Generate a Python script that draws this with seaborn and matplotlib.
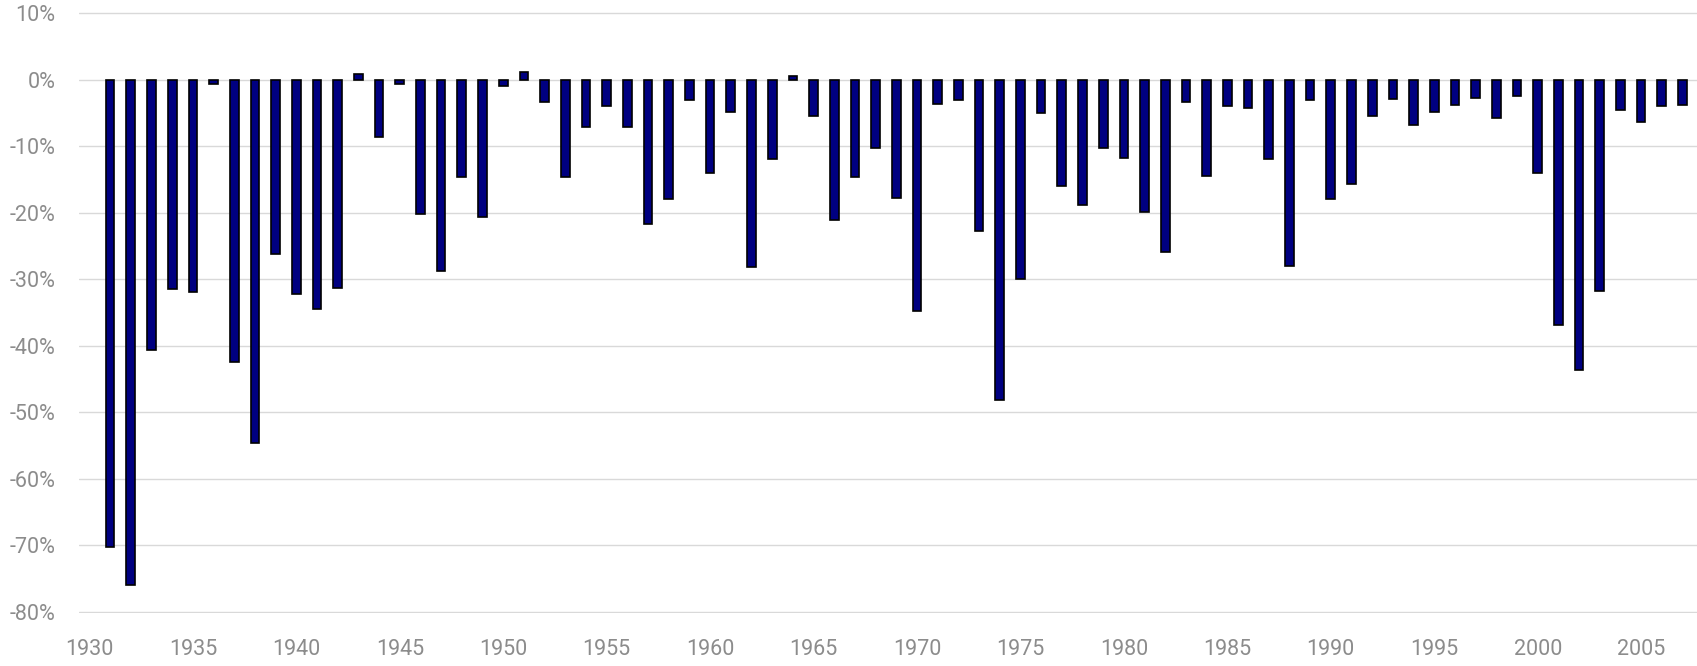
import matplotlib
matplotlib.use("Agg")
import matplotlib.pyplot as plt
import seaborn as sns
import pandas as pd

# Yearly declines (%) from 1931 to 2007
years = list(range(1931, 2008))
declines = [
    -70.2, -75.9, -40.7, -31.5, -31.9, -0.6, -42.5, -54.6, -26.2, -32.2,   # 1931-1940
    -34.5, -31.3, 0.8, -8.6, -0.7, -20.2, -28.8, -14.7, -20.7, -0.9,       # 1941-1950
    1.2, -3.3, -14.7, -7.1, -4.0, -7.2, -21.7, -18.0, -3.1, -14.0,         # 1951-1960
    -4.8, -28.1, -12.0, 0.6, -5.5, -21.1, -14.7, -10.3, -17.8, -34.8,      # 1961-1970
    -3.6, -3.1, -22.7, -48.2, -29.9, -5.0, -16.0, -18.9, -10.3, -11.8,     # 1971-1980
    -19.9, -25.9, -3.4, -14.5, -4.0, -4.2, -11.9, -28.0, -3.0, -18.0,      # 1981-1990
    -15.7, -5.5, -2.9, -6.9, -4.9, -3.8, -2.7, -5.8, -2.5, -14.1,          # 1991-2000
    -36.9, -43.6, -31.7, -4.5, -6.4, -3.9, -3.8,                            # 2001-2007
]
x_ticks = list(range(1930, 2010, 5))
y_ticks = list(range(-80, 20, 10))

df = pd.DataFrame({"year": years, "decline": declines})

sns.set_theme(style="white")
plt.rcParams["font.family"] = ["Roboto", "DejaVu Sans"]

fig = plt.figure(figsize=(16.97, 6.66), dpi=100)
ax = fig.add_axes([0.0466, 0.0795, 0.9534, 0.9020])

sns.barplot(
    data=df, x="year", y="decline", native_scale=True, ax=ax,
    color="#000080", saturation=1, width=0.42,
    edgecolor="black", linewidth=1.2, zorder=3,
)

ax.set_xlim(1929.5, 2007.7)
ax.set_ylim(-80.15, 10.1)
ax.set_xticks(x_ticks)
ax.set_xticklabels([str(t) for t in x_ticks])
ax.set_yticks(y_ticks)
ax.set_yticklabels([f"{t}%" for t in y_ticks])

ax.grid(axis="y", color="#d9d9d9", linewidth=1.0, zorder=0)
ax.grid(axis="x", visible=False)
ax.set_axisbelow(True)
for s in ax.spines.values():
    s.set_visible(False)

ax.tick_params(axis="both", length=0, labelsize=15.5, labelcolor="#8c8c8c")
ax.tick_params(axis="y", pad=17)
ax.tick_params(axis="x", pad=19)
ax.set_xlabel("")
ax.set_ylabel("")

fig.savefig("out.png", dpi=100)
